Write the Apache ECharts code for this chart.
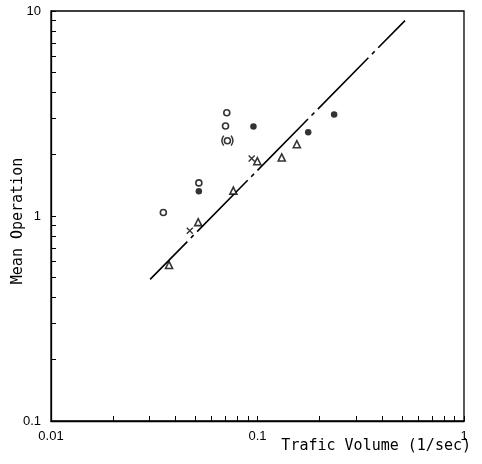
<!DOCTYPE html>
<html>
<head>
<meta charset="utf-8">
<script src="https://cdn.jsdelivr.net/npm/echarts@6/dist/echarts.min.js"></script>
<style>
html,body{margin:0;padding:0;background:#fff;}
#chart{width:482px;height:464px;}
</style>
</head>
<body>
<div id="chart"></div>
<script>
// Axis titles
const xAxisTitle = 'Trafic Volume (1/sec)';
const yAxisTitle = 'Mean Operation';

// Tick values
const xMajorTicks = [0.01, 0.1, 1];
const yMajorTicks = [0.1, 1, 10];
const xMinorTicks = [0.02,0.03,0.04,0.05,0.06,0.07,0.08,0.09,0.2,0.3,0.4,0.5,0.6,0.7,0.8,0.9];
const yMinorTicks = [0.2,0.3,0.4,0.5,0.6,0.7,0.8,0.9,2,3,4,5,6,7,8,9];

// Data series
const openCircleX = [0.035, 0.052, 0.071, 0.070];
const openCircleY = [1.04, 1.45, 3.19, 2.75];
const bracketCircleX = [0.0715];
const bracketCircleY = [2.33];
const filledCircleX = [0.052, 0.0956, 0.176, 0.235];
const filledCircleY = [1.32, 2.73, 2.56, 3.13];
const crossX = [0.047, 0.0937];
const crossY = [0.848, 1.91];
const triangleX = [0.0373, 0.0516, 0.0764, 0.0998, 0.131, 0.155];
const triangleY = [0.577, 0.933, 1.33, 1.85, 1.93, 2.24];
const fitLineX = [0.0302, 0.518];
const fitLineY = [0.491, 8.98];

const zip = (a, b) => a.map((v, i) => [v, b[i]]);

const chart = echarts.init(document.getElementById('chart'));
const labelFont = { color: '#000', fontFamily: 'Liberation Sans', fontSize: 13 };
const nameFontStr = '15px "DejaVu Sans Mono"';

chart.setOption({
  animation: false,
  backgroundColor: '#fff',
  grid: { left: 51, right: 18, top: 11, bottom: 43, containLabel: false, outerBoundsMode: 'none',
          show: true, borderColor: '#000', borderWidth: 1.3, backgroundColor: 'transparent' },
  xAxis: {
    type: 'log', logBase: 10, min: 0.01, max: 1,
    axisLine: { show: true, lineStyle: { color: '#000', width: 1.3 } },
    axisTick: { show: true, inside: true, length: 5, lineStyle: { color: '#000', width: 1 }, customValues: xMajorTicks.concat(xMinorTicks) },
    axisLabel: { show: true, margin: 9, customValues: xMajorTicks, formatter: v => String(v), ...labelFont },
    splitLine: { show: false }
  },
  yAxis: {
    type: 'log', logBase: 10, min: 0.1, max: 10,
    axisLine: { show: true, lineStyle: { color: '#000', width: 1.3 } },
    axisTick: { show: true, inside: true, length: 5, lineStyle: { color: '#000', width: 1 }, customValues: yMajorTicks.concat(yMinorTicks) },
    axisLabel: { show: true, margin: 10, customValues: yMajorTicks, formatter: v => String(v), ...labelFont },
    splitLine: { show: false }
  },
  graphic: [
    {
      type: 'text', x: 471, y: 446,
      style: { text: xAxisTitle, font: nameFontStr, fill: '#000', textAlign: 'right', textVerticalAlign: 'middle' }
    },
    {
      type: 'text', x: 18, y: 221, rotation: Math.PI / 2,
      style: { text: yAxisTitle, font: nameFontStr, fill: '#000', textAlign: 'center', textVerticalAlign: 'middle' }
    }
  ],
  series: [
    {
      type: 'line', data: zip(fitLineX, fitLineY), showSymbol: false, symbol: 'none',
      lineStyle: { color: '#000', width: 1.6, type: [72, 5, 4, 5], dashOffset: 19 },
      z: 2
    },
    {
      type: 'scatter', data: zip(openCircleX, openCircleY), symbol: 'circle', symbolSize: 6,
      itemStyle: { color: '#fff', borderColor: '#000', borderWidth: 1.6 }, z: 3
    },
    {
      type: 'scatter', data: zip(bracketCircleX, bracketCircleY), symbol: 'circle', symbolSize: 6,
      itemStyle: { color: '#fff', borderColor: '#000', borderWidth: 1.6 }, z: 3
    },
    {
      type: 'scatter', data: zip(bracketCircleX, bracketCircleY),
      symbol: 'path://M3,0 Q0,5 3,10 M9,0 Q12,5 9,10', symbolSize: [11, 10],
      itemStyle: { color: 'none', borderColor: '#000', borderWidth: 1.4 }, z: 3
    },
    {
      type: 'scatter', data: zip(filledCircleX, filledCircleY), symbol: 'circle', symbolSize: 6.5,
      itemStyle: { color: '#000', borderColor: '#000', borderWidth: 0 }, z: 3
    },
    {
      type: 'scatter', data: zip(crossX, crossY),
      symbol: 'path://M0,0 L10,10 M10,0 L0,10', symbolSize: 6,
      itemStyle: { color: 'none', borderColor: '#000', borderWidth: 1.4 }, z: 3
    },
    {
      type: 'scatter', data: zip(triangleX, triangleY), symbol: 'triangle', symbolSize: 7,
      itemStyle: { color: '#fff', borderColor: '#000', borderWidth: 1.6 }, z: 3
    }
  ]
});
</script>
</body>
</html>
